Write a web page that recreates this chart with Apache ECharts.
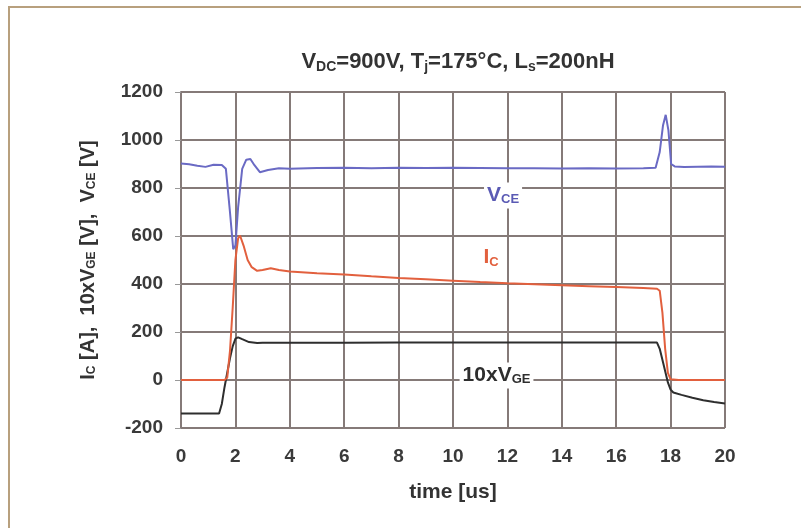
<!DOCTYPE html>
<html>
<head>
<meta charset="utf-8">
<script src="https://cdn.jsdelivr.net/npm/echarts@6/dist/echarts.min.js"></script>
<style>
  html, body { margin: 0; padding: 0; background: #fff; }
  #frame { position: absolute; left: 8px; top: 6px; right: 0; bottom: 0;
           border-left: 2px solid #b8a07e; border-top: 2px solid #b8a07e; }
  #main { position: absolute; left: 0; top: 0; width: 801px; height: 528px; }
</style>
</head>
<body>
<div id="frame"></div>
<div id="main"></div>
<script>
// temps en microsecondes
const vceTime = [0, 0.3, 0.6, 0.9, 1.2, 1.5, 1.65, 1.8, 1.92, 2.0, 2.1, 2.25, 2.4, 2.55, 2.7, 2.9, 3.2, 3.6, 4, 5, 6, 7, 8, 9, 10, 11, 12, 13, 14, 15, 16, 17, 17.45, 17.6, 17.72, 17.82, 17.92, 18.02, 18.15, 18.5, 19, 19.5, 20];
const vceValues = [902, 899, 893, 888, 897, 896, 880, 700, 545, 560, 720, 880, 918, 921, 895, 866, 875, 882, 880, 883, 884, 882, 884, 883, 884, 883, 882, 882, 881, 882, 881, 882, 884, 950, 1060, 1105, 1040, 900, 890, 888, 889, 890, 889];

const icTime = [0, 1.6, 1.7, 1.8, 1.9, 2.0, 2.1, 2.17, 2.3, 2.45, 2.6, 2.8, 3.0, 3.3, 3.6, 4, 5, 6, 7, 8, 9, 10, 11, 12, 13, 14, 15, 16, 17, 17.5, 17.6, 17.7, 17.8, 17.9, 18.0, 18.3, 20];
const icValues = [0, 0, 10, 120, 300, 500, 590, 602, 560, 500, 470, 455, 458, 466, 458, 452, 445, 440, 432, 425, 420, 414, 408, 403, 399, 395, 391, 387, 383, 380, 372, 280, 130, 30, 3, 0, 0];

const vgeTime = [0, 1.4, 1.5, 1.6, 1.7, 1.8, 1.9, 2.0, 2.1, 2.25, 2.5, 2.8, 3, 4, 6, 8, 10, 12, 14, 16, 17.5, 17.6, 17.75, 17.9, 18.0, 18.1, 18.4, 18.8, 19.2, 19.6, 20];
const vgeValues = [-140, -140, -100, -30, 30, 90, 140, 172, 178, 170, 158, 154, 155, 155, 155, 156, 156, 156, 156, 156, 156, 130, 60, -10, -40, -52, -62, -74, -84, -92, -98];

const xTicks = { min: 0, max: 20, interval: 2 };
const yTicks = { min: -200, max: 1200, interval: 200 };

const gridColor = '#857a78';
const font = 'Liberation Sans, Arial, sans-serif';

function pairs(t, v) {
  return t.map((x, i) => [x, v[i]]);
}

function subStyle(size, color) {
  return { fontFamily: font, fontWeight: 'bold', fontSize: size, color: color, verticalAlign: 'bottom', padding: [Math.round(size * 0.7), 0, 0, 0] };
}

function tag(coord, text, color) {
  return {
    symbolSize: 1,
    itemStyle: { color: 'transparent' },
    data: [{ coord: coord }],
    label: {
      show: true,
      position: 'inside',
      formatter: text,
      backgroundColor: '#fff',
      padding: [2, 3],
      fontFamily: font,
      fontWeight: 'bold',
      fontSize: 21,
      color: color,
      rich: { s: subStyle(13, color) }
    }
  };
}

const chart = echarts.init(document.getElementById('main'), null, { renderer: 'canvas' });

const option = {
  animation: false,
  backgroundColor: 'transparent',
  title: {
    text: 'V{s|DC}=900V, T{s|j}=175°C, L{s|s}=200nH',
    left: 453,
    top: 45,
    textAlign: 'center',
    textStyle: {
      fontFamily: font, fontWeight: 'bold', fontSize: 22, color: '#333',
      rich: { s: subStyle(14, '#333') }
    }
  },
  grid: { left: 181, right: 76, top: 92, bottom: 100, containLabel: false },
  xAxis: {
    type: 'value',
    min: xTicks.min, max: xTicks.max, interval: xTicks.interval,
    name: 'time [us]',
    nameLocation: 'middle',
    nameGap: 54,
    nameTextStyle: { fontFamily: font, fontWeight: 'bold', fontSize: 21, color: '#333' },
    axisLine: { show: true, lineStyle: { color: gridColor, width: 2 } },
    axisTick: { show: false },
    axisLabel: { fontFamily: font, fontWeight: 'bold', fontSize: 19, color: '#3a3a3a', margin: 19 },
    splitLine: { show: true, lineStyle: { color: gridColor, width: 2 } }
  },
  yAxis: {
    type: 'value',
    min: yTicks.min, max: yTicks.max, interval: yTicks.interval,
    name: 'I{s|C} [A],  10xV{s|GE} [V],  V{s|CE} [V]',
    nameLocation: 'middle',
    nameGap: 83,
    nameTextStyle: {
      fontFamily: font, fontWeight: 'bold', fontSize: 20, color: '#333',
      rich: { s: subStyle(12, '#333') }
    },
    axisLine: { show: true, lineStyle: { color: gridColor, width: 2 } },
    axisTick: { show: true, length: 6, lineStyle: { color: '#999', width: 1 } },
    axisLabel: { fontFamily: font, fontWeight: 'bold', fontSize: 19, color: '#3a3a3a', margin: 18, formatter: v => String(v) },
    splitLine: { show: true, lineStyle: { color: gridColor, width: 2 } }
  },
  series: [
    {
      name: 'VGE',
      type: 'line',
      data: pairs(vgeTime, vgeValues),
      showSymbol: false,
      lineStyle: { color: '#2e2e2e', width: 2 },
      markPoint: tag([11.6, 17], '10xV{s|GE}', '#2e2e2e')
    },
    {
      name: 'IC',
      type: 'line',
      data: pairs(icTime, icValues),
      showSymbol: false,
      lineStyle: { color: '#e2603e', width: 2 },
      markPoint: tag([11.4, 508], 'I{s|C}', '#e2603e')
    },
    {
      name: 'VCE',
      type: 'line',
      data: pairs(vceTime, vceValues),
      showSymbol: false,
      lineStyle: { color: '#6a6ac4', width: 2 },
      markPoint: tag([11.84, 767], 'V{s|CE}', '#5a5ab4')
    }
  ]
};

chart.setOption(option);
</script>
</body>
</html>
